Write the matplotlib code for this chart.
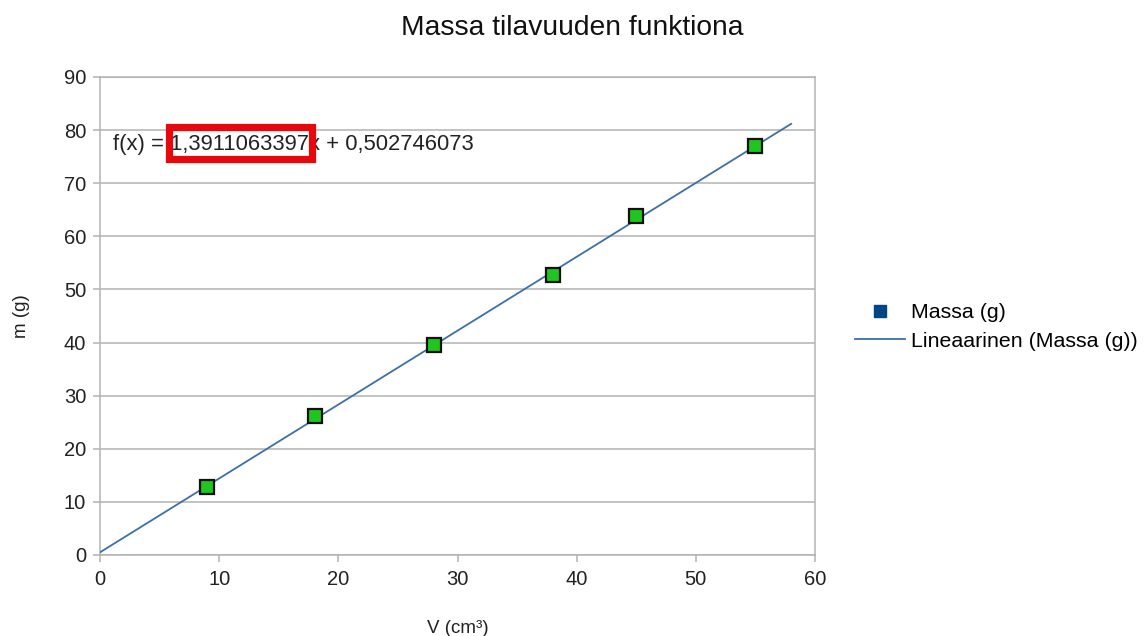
import matplotlib
matplotlib.use("Agg")
import matplotlib.pyplot as plt
from matplotlib.lines import Line2D
from matplotlib.patches import Rectangle
import numpy as np

plt.rcParams['font.family'] = ['Liberation Sans', 'DejaVu Sans']

volume = [9, 18, 28, 38, 45, 55]
mass = [12.8, 26.1, 39.6, 52.7, 63.8, 77.0]
slope = 1.3911063397
intercept = 0.502746073
trend_x = [0, 58]
title = "Massa tilavuuden funktiona"
xlabel = "V (cm³)"
ylabel = "m (g)"
formula = "f(x) = 1,3911063397x + 0,502746073"

fig = plt.figure(figsize=(11.44, 6.36), dpi=100)
ax = fig.add_axes([100/1144, 1-555/636, 715/1144, 478/636])

grid_c = '#b3b3b3'
tx = np.array(trend_x, dtype=float)
ax.plot(tx, slope*tx + intercept, color='#3d6fa8', lw=1.3, zorder=3)
ax.plot(volume, mass, ls='none', marker='s', markersize=10.5, markerfacecolor='#1ec61e',
        markeredgecolor='#111111', markeredgewidth=1.6, zorder=4)

ax.set_xlim(0, 60)
ax.set_ylim(0, 90)
ax.set_xticks(range(0, 61, 10))
ax.set_yticks(range(0, 91, 10))
ax.yaxis.grid(True, color=grid_c, lw=1.1)
ax.set_axisbelow(True)
for s in ax.spines.values():
    s.set_color(grid_c)
    s.set_linewidth(1.1)
ax.tick_params(axis='both', colors=grid_c, length=5, width=1.1, labelsize=14.5, labelcolor='#222222')
ax.tick_params(axis='x', pad=6)
ax.tick_params(axis='y', pad=5)

ax.set_xlabel(xlabel, fontsize=13.5, color='#222222', labelpad=22)
ax.set_ylabel(ylabel, fontsize=13.5, color='#222222', labelpad=24)
fig.text(0.5, 1-28/636, title, ha='center', va='center', fontsize=20.3, color='#111111')

ax.text(1.1, 77.2, formula, fontsize=15.8, color='#222222', va='center', ha='left', zorder=5)
rect = Rectangle((5.75, 74.65), 17.83-5.75, 80.5-74.65, fill=False, edgecolor='#e8080c',
                 lw=5.2, zorder=6, joinstyle='miter')
ax.add_patch(rect)

handles = [
    Line2D([], [], ls='none', marker='s', markersize=9, markerfacecolor='#004586', markeredgecolor='#004586'),
    Line2D([], [], color='#3d6fa8', lw=1.3),
]
fig.legend(handles, ['Massa (g)', 'Lineaarinen (Massa (g))'], loc='center left',
           bbox_to_anchor=(855/1144, 1-327/636), frameon=False, fontsize=15.4,
           handlelength=2.35, handletextpad=0.25, labelspacing=0.45, borderaxespad=0, borderpad=0)

fig.savefig('out.png', dpi=100)
